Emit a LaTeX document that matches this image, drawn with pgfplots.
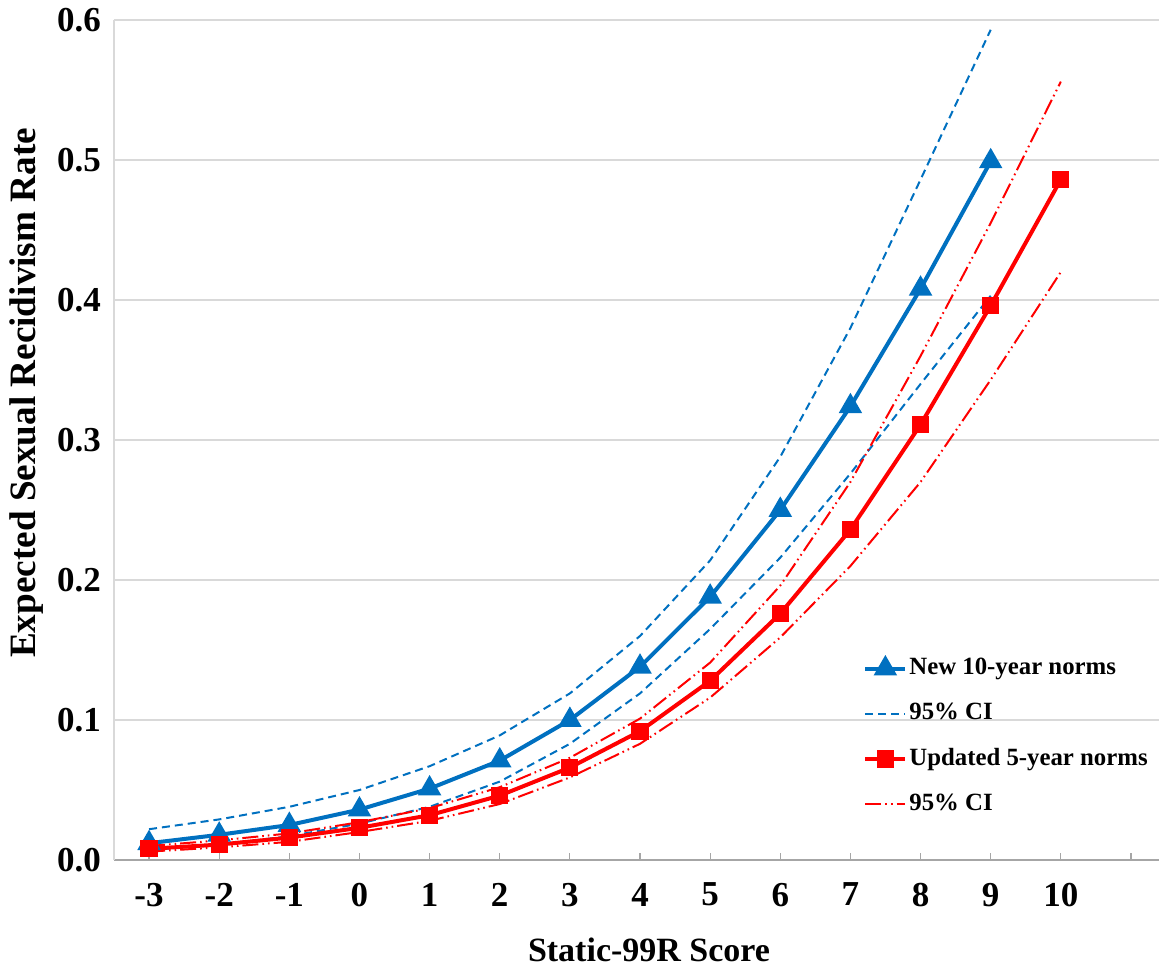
\documentclass[border=0pt]{standalone}
\usepackage{pgfplots}
\pgfplotsset{compat=1.18}
\usepackage{fontspec}
\setmainfont{Liberation Serif}
\definecolor{xlblue}{HTML}{0070C0}
\definecolor{xlred}{HTML}{FF0000}
\definecolor{gridgray}{HTML}{D9D9D9}
\definecolor{axisgray}{HTML}{A6A6A6}
\begin{document}
\begin{tikzpicture}
\useasboundingbox (-57pt,-57pt) rectangle (522.5pt,430pt);
\begin{axis}[
  scale only axis,
  width=522.5pt, height=420pt,
  xmin=-3.5, xmax=11.4,
  ymin=0, ymax=0.6,
  clip=false,
  axis x line=bottom, axis y line=left,
  x axis line style={-, color=axisgray, line width=0.8pt},
  y axis line style={-, color=gridgray, line width=0.8pt},
  xtick={-3,-2,-1,0,1,2,3,4,5,6,7,8,9,10,11},
  xticklabels={-3,-2,-1,0,1,2,3,4,5,6,7,8,9,10,{}},
  x tick style={color=axisgray, line width=0.6pt},
  xtick pos=bottom, tick align=inside,
  major tick length=3.5pt,
  ytick={0,0.1,0.2,0.3,0.4,0.5,0.6},
  y tick style={draw=none},
  ymajorgrids, grid style={gridgray, line width=0.6pt},
  /pgf/number format/assume math mode=true,
  yticklabel style={/pgf/number format/fixed, /pgf/number format/fixed zerofill, /pgf/number format/precision=1},
  ticklabel style={font=\fontsize{17.5}{20}\selectfont\bfseries},
  xticklabel style={yshift=-8pt},
  yticklabel style={xshift=-3pt},
  xlabel={Static-99R Score},
  ylabel={Expected Sexual Recidivism Rate},
  xlabel style={font=\fontsize{17}{20}\selectfont\bfseries, at={(rel axis cs:0.512,-0.107)}, anchor=center},
  ylabel style={font=\fontsize{18.6}{21}\selectfont\bfseries, at={(rel axis cs:-0.0835,0.556)}, anchor=center},
  legend style={at={(rel axis cs:0.7167,0.245)}, anchor=north west, draw=none, fill=none,
    inner sep=0pt, row sep=8.6pt, font=\fontsize{12.4}{14}\selectfont\bfseries,
    nodes={inner sep=1pt, text height=9pt, text depth=3pt}},
  legend cell align=left,
  legend image code/.code={\draw[mark repeat=2, mark phase=2] plot coordinates {(0pt,0pt) (10pt,0pt) (20pt,0pt)};},
]
\addplot[xlblue, line width=2pt, mark=triangle*, mark size=4.8pt, mark options={solid}] coordinates {
(-3,0.012) (-2,0.018) (-1,0.025) (0,0.036) (1,0.051) (2,0.071) (3,0.100) (4,0.138) (5,0.188) (6,0.250) (7,0.324) (8,0.408) (9,0.499)};
\addlegendentry{New 10-year norms}
\addplot[xlblue, line width=1pt, dash pattern=on 4pt off 2.5pt] coordinates {
(-3,0.022) (-2,0.029) (-1,0.038) (0,0.050) (1,0.067) (2,0.089) (3,0.119) (4,0.160) (5,0.214) (6,0.288) (7,0.380) (8,0.486) (9,0.593)};
\addlegendentry{95\% CI}
\addplot[xlblue, line width=1pt, dash pattern=on 4pt off 2.5pt, forget plot] coordinates {
(-3,0.007) (-2,0.011) (-1,0.017) (0,0.026) (1,0.038) (2,0.056) (3,0.083) (4,0.119) (5,0.165) (6,0.216) (7,0.276) (8,0.340) (9,0.403)};
\addplot[xlred, line width=2pt, mark=square*, mark size=3.3pt, mark options={solid}] coordinates {
(-3,0.008) (-2,0.011) (-1,0.016) (0,0.023) (1,0.032) (2,0.046) (3,0.066) (4,0.092) (5,0.128) (6,0.176) (7,0.236) (8,0.311) (9,0.396) (10,0.486)};
\addlegendentry{Updated 5-year norms}
\addplot[xlred, line width=1pt, dash pattern=on 8pt off 2pt on 0.8pt off 2pt on 0.8pt off 2pt] coordinates {
(-3,0.010) (-2,0.014) (-1,0.019) (0,0.027) (1,0.037) (2,0.052) (3,0.073) (4,0.101) (5,0.141) (6,0.196) (7,0.270) (8,0.360) (9,0.455) (10,0.556)};
\addlegendentry{95\% CI}
\addplot[xlred, line width=1pt, dash pattern=on 8pt off 2pt on 0.8pt off 2pt on 0.8pt off 2pt, forget plot] coordinates {
(-3,0.006) (-2,0.009) (-1,0.013) (0,0.020) (1,0.028) (2,0.040) (3,0.059) (4,0.083) (5,0.116) (6,0.159) (7,0.210) (8,0.270) (9,0.343) (10,0.420)};
\end{axis}
\end{tikzpicture}
\end{document}
